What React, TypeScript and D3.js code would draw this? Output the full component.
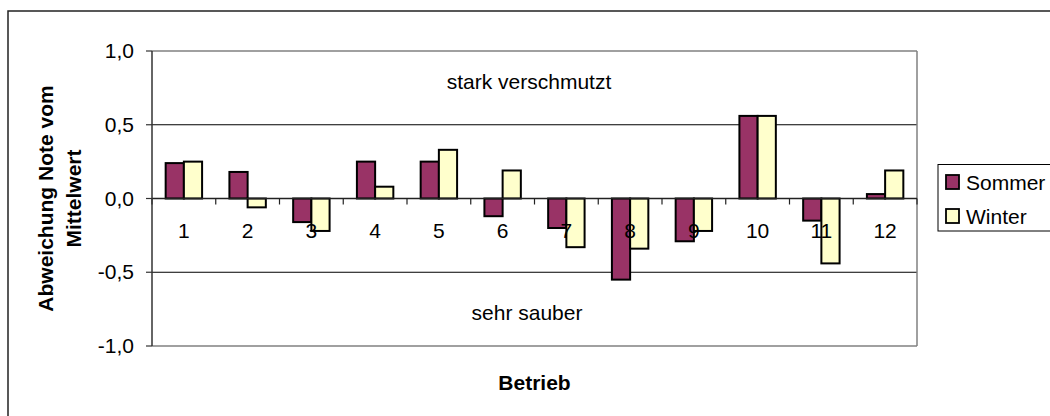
import React, { useEffect, useRef } from "react";
import * as d3 from "d3";

const betriebe = ["1", "2", "3", "4", "5", "6", "7", "8", "9", "10", "11", "12"];
const sommer = [0.24, 0.18, -0.16, 0.25, 0.25, -0.12, -0.2, -0.55, -0.29, 0.56, -0.15, 0.03];
const winter = [0.25, -0.06, -0.22, 0.08, 0.33, 0.19, -0.33, -0.34, -0.22, 0.56, -0.44, 0.19];
const serien = ["Sommer", "Winter"];
const farben = ["#993366", "#FFFFCC"];
const yTicks = [-1, -0.5, 0, 0.5, 1];

const App: React.FC = () => {
    const svgRef = useRef<SVGSVGElement | null>(null);

    useEffect(() => {
        if (!svgRef.current) return;
        const svg = d3.select(svgRef.current);
        svg.selectAll("*").remove();

        const width = 1050;
        const height = 416;
        const font = "'Liberation Sans', Arial, sans-serif";
        const fs = 21;
        const plot = { left: 152, right: 917, top: 51, bottom: 346 };

        // äußerer Rahmen
        svg.append("rect")
            .attr("x", 8).attr("y", 11)
            .attr("width", width).attr("height", height)
            .attr("fill", "white")
            .attr("stroke", "#222").attr("stroke-width", 1.5);

        const x = d3.scaleBand<string>().domain(betriebe).range([plot.left, plot.right]);
        const xs = d3.scaleBand<string>().domain(serien).range([0, x.bandwidth()]).paddingOuter(0.75);
        const y = d3.scaleLinear().domain([-1, 1]).range([plot.bottom, plot.top]);

        // Gitterlinien
        svg.append("g").selectAll("line")
            .data([-0.5, 0.5]).join("line")
            .attr("x1", plot.left).attr("x2", plot.right)
            .attr("y1", (d) => y(d)).attr("y2", (d) => y(d))
            .attr("stroke", "#000").attr("stroke-width", 1);

        // Plotrahmen (grau)
        svg.append("g").selectAll("line")
            .data([-1, 1]).join("line")
            .attr("x1", plot.left).attr("x2", plot.right)
            .attr("y1", (d) => y(d)).attr("y2", (d) => y(d))
            .attr("stroke", "#808080").attr("stroke-width", 1.5);
        svg.append("line")
            .attr("x1", plot.right).attr("x2", plot.right)
            .attr("y1", plot.top).attr("y2", plot.bottom)
            .attr("stroke", "#808080").attr("stroke-width", 1.5);

        // Texte im Diagramm
        svg.append("text")
            .attr("x", 529).attr("y", 89)
            .attr("text-anchor", "middle")
            .attr("font-family", font).attr("font-size", fs)
            .text("stark verschmutzt");
        svg.append("text")
            .attr("x", 527).attr("y", 320)
            .attr("text-anchor", "middle")
            .attr("font-family", font).attr("font-size", fs)
            .text("sehr sauber");

        // Balken
        const werte = [sommer, winter];
        serien.forEach((s, si) => {
            svg.append("g").selectAll("rect")
                .data(betriebe).join("rect")
                .attr("x", (b) => (x(b) ?? 0) + (xs(s) ?? 0))
                .attr("width", xs.bandwidth())
                .attr("y", (_b, i) => y(Math.max(0, werte[si][i])))
                .attr("height", (_b, i) => Math.abs(y(werte[si][i]) - y(0)))
                .attr("fill", farben[si])
                .attr("stroke", "#000").attr("stroke-width", 2);
        });

        // Nulllinie und x-Ticks
        svg.append("line")
            .attr("x1", plot.left).attr("x2", plot.right)
            .attr("y1", y(0)).attr("y2", y(0))
            .attr("stroke", "#222").attr("stroke-width", 1.5);
        const xTickPos = betriebe.map((b) => x(b) ?? 0).concat([plot.right]);
        svg.append("g").selectAll("line")
            .data(xTickPos).join("line")
            .attr("x1", (d) => d).attr("x2", (d) => d)
            .attr("y1", y(0)).attr("y2", y(0) + 6)
            .attr("stroke", "#222").attr("stroke-width", 1.2);
        svg.append("g").selectAll("text")
            .data(betriebe).join("text")
            .attr("x", (b) => (x(b) ?? 0) + x.bandwidth() / 2)
            .attr("y", y(0) + 39)
            .attr("text-anchor", "middle")
            .attr("font-family", font).attr("font-size", fs)
            .text((b) => b);

        // y-Achse
        svg.append("line")
            .attr("x1", plot.left).attr("x2", plot.left)
            .attr("y1", plot.top).attr("y2", plot.bottom)
            .attr("stroke", "#333").attr("stroke-width", 1.5);
        svg.append("g").selectAll("line")
            .data(yTicks).join("line")
            .attr("x1", plot.left - 6).attr("x2", plot.left)
            .attr("y1", (d) => y(d)).attr("y2", (d) => y(d))
            .attr("stroke", "#333").attr("stroke-width", 1.2);
        svg.append("g").selectAll("text")
            .data(yTicks).join("text")
            .attr("x", 134)
            .attr("y", (d) => y(d) + 7)
            .attr("text-anchor", "end")
            .attr("font-family", font).attr("font-size", fs)
            .text((d) => d3.format(".1f")(d).replace(".", ",").replace("−", "-"));

        // Achsentitel
        const yTitel = svg.append("text")
            .attr("transform", `translate(53, ${y(0)}) rotate(-90)`)
            .attr("text-anchor", "middle")
            .attr("font-family", font).attr("font-size", fs).attr("font-weight", "bold");
        yTitel.append("tspan").attr("x", 0).attr("dy", 0).text("Abweichung Note vom");
        yTitel.append("tspan").attr("x", 0).attr("dy", 28).text("Mittelwert");

        svg.append("text")
            .attr("x", (plot.left + plot.right) / 2).attr("y", 390)
            .attr("text-anchor", "middle")
            .attr("font-family", font).attr("font-size", fs).attr("font-weight", "bold")
            .text("Betrieb");

        // Legende
        const legend = svg.append("g");
        legend.append("rect")
            .attr("x", 938).attr("y", 164.5)
            .attr("width", 200).attr("height", 66.5)
            .attr("fill", "white").attr("stroke", "#000").attr("stroke-width", 1);
        serien.forEach((s, si) => {
            const ly = 175 + si * 34;
            legend.append("rect")
                .attr("x", 946).attr("y", ly)
                .attr("width", 13).attr("height", 14)
                .attr("fill", farben[si])
                .attr("stroke", "#000").attr("stroke-width", 1.8);
            legend.append("text")
                .attr("x", 966).attr("y", ly + 15)
                .attr("font-family", font).attr("font-size", fs)
                .text(s);
        });
    }, []);

    return (
        <div style={{ position: "absolute", left: 0, top: 0 }}>
            <svg ref={svgRef} width={1050} height={416} style={{ display: "block" }}></svg>
        </div>
    );
};

export default App;
